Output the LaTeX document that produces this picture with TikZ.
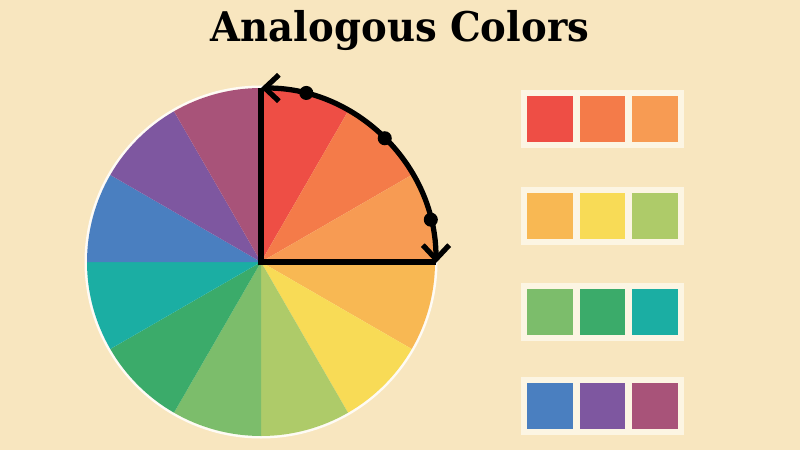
\documentclass[tikz,border=0pt]{standalone}
\usepackage{fontspec}
\newfontfamily\titlefont{DejaVu Serif}
\usetikzlibrary{arrows.meta,calc}
\definecolor{bg}{HTML}{F8E6BF}
\definecolor{panel}{HTML}{FCF5E3}
\definecolor{cA}{HTML}{EE4E45}
\definecolor{cB}{HTML}{F47B49}
\definecolor{cC}{HTML}{F79B53}
\definecolor{cD}{HTML}{F8B853}
\definecolor{cE}{HTML}{F8DB56}
\definecolor{cF}{HTML}{AECB69}
\definecolor{cG}{HTML}{7CBD6B}
\definecolor{cH}{HTML}{3BAB6A}
\definecolor{cI}{HTML}{1BAEA3}
\definecolor{cJ}{HTML}{4A7FC0}
\definecolor{cK}{HTML}{7E57A0}
\definecolor{cL}{HTML}{A85379}
\tikzset{
  wheelline/.style={line width=3.4pt, black},
  arcline/.style={line width=3pt, black, {Straight Barb[length=8pt,width=15pt]}-{Straight Barb[length=8pt,width=15pt]}},
  dotmark/.style={circle, fill=black, inner sep=0pt, minimum size=8pt},
  panelbox/.style={fill=panel, draw=none},
  swatch/.style={draw=none}
}
\begin{document}
\begin{tikzpicture}[x=0.02cm,y=0.02cm]
\useasboundingbox (0,0) rectangle (800,450);
\fill[bg] (0,0) rectangle (800,450);
% title
\node[font=\titlefont\bfseries\fontsize{24}{28}\selectfont, anchor=center] (title) at (400,419) {\scalebox{0.915}[0.97]{Analogous Colors}};
% wheel
\coordinate (C) at (261,188);
\fill[white!85!bg] (C) circle (176.5);
\foreach \col [count=\i from 0] in {cA,cB,cC,cD,cE,cF,cG,cH,cI,cJ,cK,cL}{
  \pgfmathsetmacro{\aS}{90-30*\i}
  \pgfmathsetmacro{\aE}{60-30*\i}
  \fill[\col] (C) -- ++(\aS:174) arc (\aS:\aE:174) -- cycle;
}
\coordinate (T) at (261,362);
\coordinate (R) at (436,188);
\draw[wheelline, line join=miter] (T) -- (C) -- (R);
\draw[arcline] (T) arc (90:0:175);
\node[dotmark] (d1) at ($(C)+(75:175)$) {};
\node[dotmark] (d2) at ($(C)+(45:175)$) {};
\node[dotmark] (d3) at ($(C)+(14:175)$) {};
% swatches
\foreach \y/\ca/\cb/\cc [count=\r] in {331/cA/cB/cC, 234/cD/cE/cF, 138/cG/cH/cI, 44/cJ/cK/cL}{
  \fill[panelbox] (521,\y-29) rectangle (684,\y+29);
  \fill[\ca] (527,\y-23) rectangle (573,\y+23);
  \fill[\cb] (580,\y-23) rectangle (625,\y+23);
  \fill[\cc] (632,\y-23) rectangle (678,\y+23);
}
\end{tikzpicture}
\end{document}
